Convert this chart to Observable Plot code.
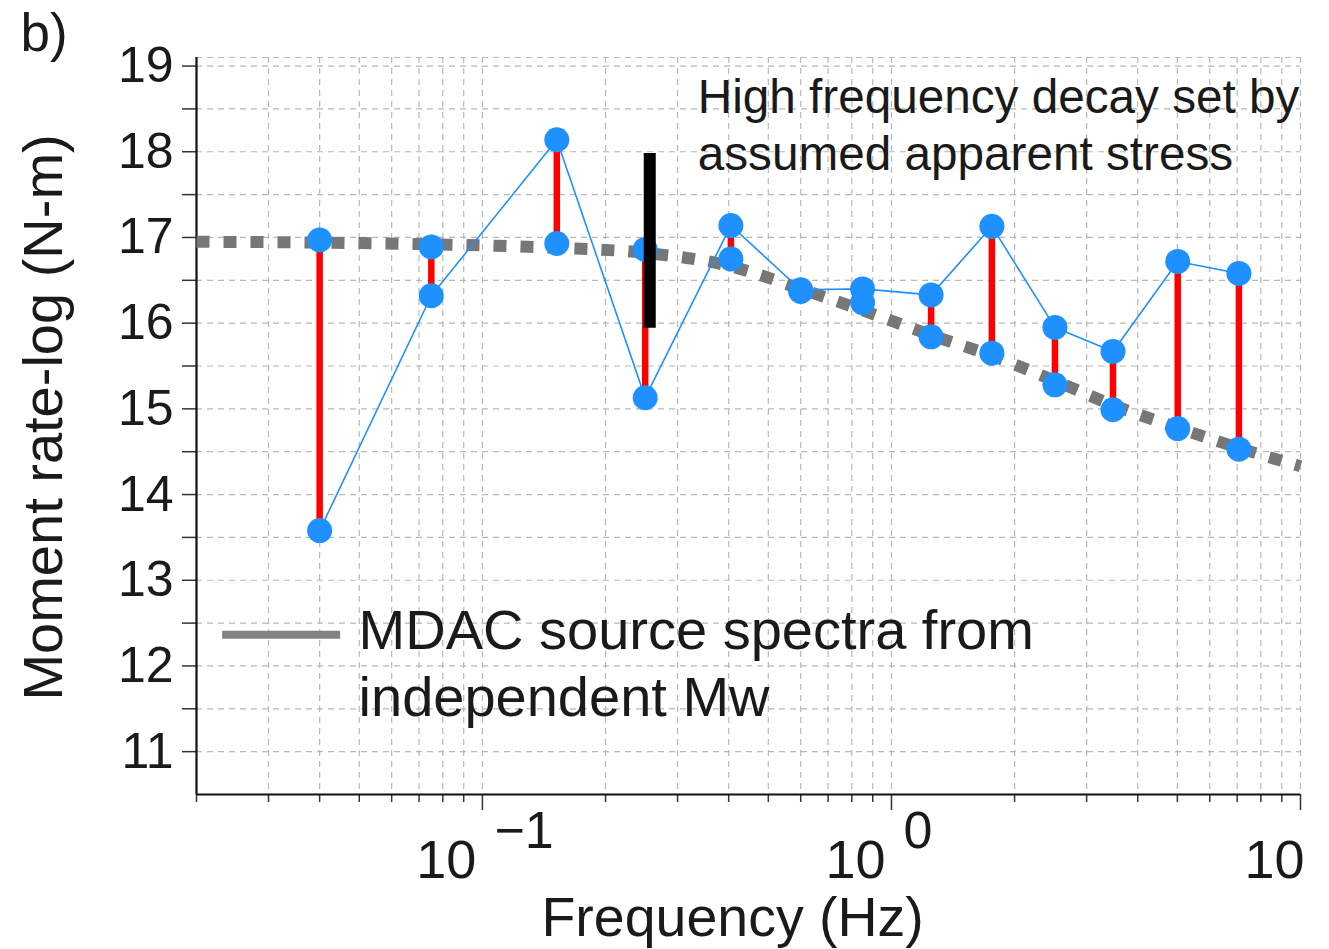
<!DOCTYPE html>
<html>
<head>
<meta charset="utf-8">
<script src="https://cdn.jsdelivr.net/npm/d3@7"></script>
<script src="https://cdn.jsdelivr.net/npm/@observablehq/plot@0.6"></script>
<style>
  html, body { margin: 0; padding: 0; background: #fff; }
  svg { display: block; }
</style>
</head>
<body>
<div id="chart"></div>
<script>
// ---- data ----
const freq       = [0.040, 0.075, 0.152, 0.25, 0.405, 0.60, 0.85, 1.25, 1.76, 2.51, 3.48, 5.01, 7.07];
const observed   = [13.58, 16.32, 18.14, 15.13, 17.14, 16.39, 16.40, 16.33, 17.13, 15.95, 15.67, 16.72, 16.58];
const mdacAtFreq = [16.97, 16.89, 16.93, 16.86, 16.75, 16.37, 16.24, 15.84, 15.65, 15.28, 14.99, 14.77, 14.53];

// MDAC source spectrum curve (dashed grey)
const mdacCurveFreq = [0.02, 0.04, 0.075, 0.15, 0.25, 0.4, 0.6, 0.85, 1.25, 1.76, 2.5, 3.5, 5, 7, 10];
const mdacCurveVal  = [16.95, 16.94, 16.92, 16.88, 16.82, 16.67, 16.40, 16.15, 15.86, 15.62, 15.33, 15.04, 14.78, 14.55, 14.33];

// axes
const xDomain = [0.02, 10];
const yDomain = [10.5, 19.1];
const yTickLabels = [11, 12, 13, 14, 15, 16, 17, 18, 19];
const yGridValues = [11, 11.5, 12, 12.5, 13, 13.5, 14, 14.5, 15, 15.5, 16, 16.5, 17, 17.5, 18, 18.5, 19];
const xMajorTicks = [0.1, 1, 10];
const xMinorTicks = [0.02, 0.03, 0.04, 0.05, 0.06, 0.07, 0.08, 0.09,
                     0.2, 0.3, 0.4, 0.5, 0.6, 0.7, 0.8, 0.9,
                     2, 3, 4, 5, 6, 7, 8, 9];
const xTickBase = ["10", "10", "10"];
const xTickExp  = ["\u22121", "0", ""];

// annotations
const barFreq = 0.2565;
const barRange = [15.94, 17.98];
const annotationText = "High frequency decay set by\nassumed apparent stress";
const annotationPos = {f: 0.336, v: 17.79};
const legendText = "MDAC source spectra from\nindependent Mw";
const legendTextPos = {f: 0.0498, v: 11.42};
const legendLine = {f1: 0.02317, f2: 0.04502, v: 12.364};
const xLabel = "Frequency (Hz)";
const xLabelAt = 0.409;
const yLabel = "Moment rate-log (N-m)";
const yLabelAt = 14.9;
const panelLabel = "b)";

// ---- build tables ----
const points = freq.map((f, i) => ({f, obs: observed[i], mdac: mdacAtFreq[i]}));
const curve = mdacCurveFreq.map((f, i) => ({f, v: mdacCurveVal[i]}));
const majorLabels = xMajorTicks.map((v, i) => ({v, base: xTickBase[i], exp: xTickExp[i]}));

const gridColor = "#b8b8b8";
const blue = "#1E90FF";
const textColor = "#1a1a1a";

const chart = Plot.plot({
  width: 1329,
  height: 949,
  marginLeft: 196,
  marginRight: 29,
  marginTop: 57,
  marginBottom: 155,
  style: {
    fontFamily: "'Liberation Sans', Arial, Helvetica, sans-serif",
    background: "#fff",
    color: textColor,
    overflow: "visible"
  },
  x: {type: "log", domain: xDomain, axis: null},
  y: {domain: yDomain, axis: null},
  marks: [
    // grid
    Plot.ruleX([...xMinorTicks, ...xMajorTicks], {x: d => d, stroke: gridColor, strokeWidth: 1.2, strokeDasharray: "6,5"}),
    Plot.ruleY([...yGridValues, yDomain[1]], {y: d => d, stroke: gridColor, strokeWidth: 1.2, strokeDasharray: "6,5"}),

    // axis tick marks
    Plot.axisY(yGridValues, {anchor: "left", tickSize: 14, tickFormat: () => "", label: null, stroke: "#333", strokeWidth: 1.5}),
    Plot.axisY(yTickLabels, {anchor: "left", tickSize: 0, tickPadding: 23, tickFormat: d => String(d), fontSize: 50, label: null}),
    Plot.axisX(xMinorTicks, {anchor: "bottom", tickSize: 8, tickFormat: () => "", label: null, stroke: "#333", strokeWidth: 1.5}),
    Plot.axisX(xMajorTicks, {anchor: "bottom", tickSize: 16, tickFormat: () => "", label: null, stroke: "#333", strokeWidth: 1.5}),

    // axis lines
    Plot.ruleX([xDomain[0]], {x: d => d, stroke: "#111", strokeWidth: 2.2}),
    Plot.ruleY([yDomain[0]], {y: d => d, stroke: "#111", strokeWidth: 2.2}),

    // x tick labels (10^k)
    Plot.text(majorLabels.filter(d => d.exp), {x: "v", text: "base", frameAnchor: "bottom", textAnchor: "end", lineAnchor: "bottom", dx: -6, dy: 83, fontSize: 54}),
    Plot.text(majorLabels.filter(d => d.exp), {x: "v", text: "exp", frameAnchor: "bottom", textAnchor: "start", lineAnchor: "bottom", dx: 12, dy: 53, fontSize: 52}),
    Plot.text(majorLabels.filter(d => !d.exp), {x: "v", text: "base", frameAnchor: "bottom", textAnchor: "end", lineAnchor: "bottom", dx: 4, dy: 83, fontSize: 54}),

    // MDAC source spectrum
    Plot.line(curve, {x: "f", y: "v", stroke: "#777", strokeWidth: 12, strokeDasharray: "13,14", strokeLinecap: "butt", strokeLinejoin: "miter", curve: "monotone-x"}),

    // misfit bars
    Plot.ruleX(points, {x: "f", y1: "obs", y2: "mdac", stroke: "#ff0000", strokeWidth: 6.5}),

    // observed line
    Plot.line(points, {x: "f", y: "obs", stroke: blue, strokeWidth: 1.6}),

    // dots
    Plot.dot(points, {x: "f", y: "mdac", r: 12.5, fill: blue}),
    Plot.dot(points, {x: "f", y: "obs", r: 12.5, fill: blue}),

    // black bar
    Plot.ruleX([barFreq], {x: d => d, y1: barRange[0], y2: barRange[1], stroke: "#000", strokeWidth: 12}),

    // annotation
    Plot.text([annotationText], {x: () => annotationPos.f, y: () => annotationPos.v, text: d => d, textAnchor: "start", lineAnchor: "bottom", lineHeight: 1.19, fontSize: 47.7}),

    // legend
    Plot.ruleY([legendLine.v], {y: d => d, x1: legendLine.f1, x2: legendLine.f2, stroke: "#828282", strokeWidth: 8}),
    Plot.text([legendText], {x: () => legendTextPos.f, y: () => legendTextPos.v, text: d => d, textAnchor: "start", lineAnchor: "bottom", lineHeight: 1.19, fontSize: 56}),

    // axis titles
    Plot.text([xLabel], {x: () => xLabelAt, text: d => d, frameAnchor: "bottom", textAnchor: "middle", lineAnchor: "bottom", dy: 141, fontSize: 55.5}),
    Plot.text([yLabel], {y: () => yLabelAt, text: d => d, frameAnchor: "left", textAnchor: "middle", lineAnchor: "middle", dx: -152, rotate: -90, fontSize: 56}),

    // panel label
    Plot.text([panelLabel], {text: d => d, frameAnchor: "top-left", textAnchor: "start", lineAnchor: "bottom", dx: -176, dy: -7, fontSize: 53})
  ]
});

document.getElementById("chart").appendChild(chart);
</script>
</body>
</html>
